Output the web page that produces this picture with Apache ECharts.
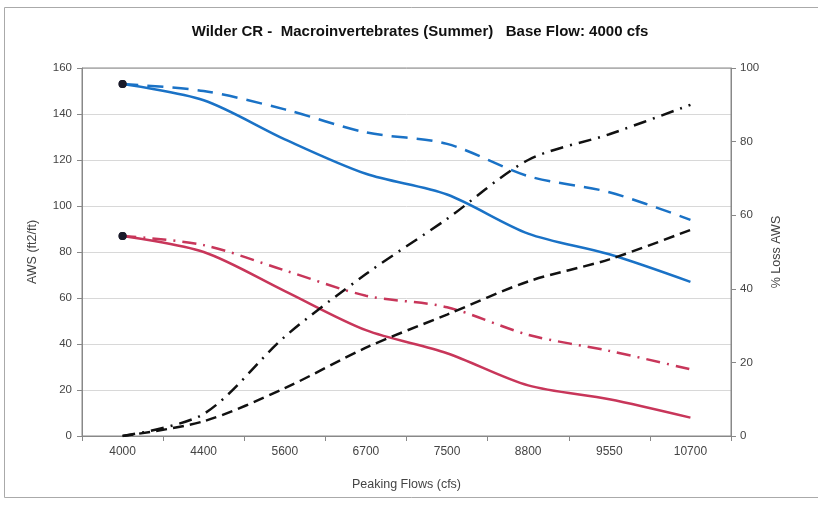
<!DOCTYPE html>
<html>
<head>
<meta charset="utf-8">
<script src="https://cdn.jsdelivr.net/npm/echarts@6/dist/echarts.min.js"></script>
<style>
  html, body { margin: 0; padding: 0; background: #fff; }
  #chart { width: 818px; height: 506px; }
</style>
</head>
<body>
<div id="chart"></div>
<script>
// 峰值流量类别
var flows = ['4000', '4400', '5600', '6700', '7500', '8800', '9550', '10700'];
// AWS (左轴)
var blueSolid  = [153, 146, 129, 114, 105, 88, 79, 67];
var blueDashed = [153, 150, 142, 132, 127, 113, 106, 94];
var redSolid   = [87, 80, 63, 46, 36, 22, 16, 8];
var redDashDot = [87, 83, 72, 61, 56, 44, 37, 29];
// % Loss AWS (右轴)
var blackDashed  = [0, 4, 13, 24, 33, 42, 48, 56];
var blackDashDot = [0, 6, 27, 44, 59, 75, 82, 90];
var leftTicks = [0, 160, 20];
var rightTicks = [0, 100, 20];

var BLUE = '#1a72c6', RED = '#c8365a', BLACK = '#111';
var FONT = 'Liberation Sans, Arial, sans-serif';

// 第一个点带黑色圆点
function withDot(arr) {
  return arr.map(function (v, i) {
    if (i === 0) return { value: v, symbol: 'circle', symbolSize: 8, itemStyle: { color: '#1a1a2a' } };
    return { value: v, symbol: 'none' };
  });
}

function line(name, data, color, dash, yIdx) {
  return {
    name: name,
    type: 'line',
    yAxisIndex: yIdx,
    smooth: 0.3,
    showSymbol: true,
    symbol: 'none',
    data: data,
    lineStyle: { color: color, width: 2.5, type: dash },
    itemStyle: { color: color },
    z: 3
  };
}

var myChart = echarts.init(document.getElementById('chart'));
var tickTxt = { color: '#444', fontSize: 11.5, fontFamily: FONT };
var nameTxt = { color: '#444', fontSize: 12.5, fontFamily: FONT };

myChart.setOption({
  animation: false,
  backgroundColor: '#fff',
  title: {
    text: 'Wilder CR -  Macroinvertebrates (Summer)   Base Flow: 4000 cfs',
    left: 415,
    textAlign: 'center',
    top: 19,
    textStyle: { fontSize: 15, fontWeight: 'bold', color: '#111', fontFamily: FONT }
  },
  graphic: [
    { type: 'rect', shape: { x: 4.5, y: 7.5, width: 830, height: 490 }, style: { fill: 'none', stroke: '#aaa', lineWidth: 1 }, z: 0 },
    { type: 'rect', shape: { x: 82, y: 68, width: 649, height: 368 }, style: { fill: 'none', stroke: '#888', lineWidth: 1 }, z: 1 }
  ],
  grid: { left: 82, right: 87, top: 68, bottom: 70 },
  xAxis: {
    type: 'category',
    data: flows,
    boundaryGap: true,
    name: 'Peaking Flows (cfs)',
    nameLocation: 'middle',
    nameGap: 42,
    nameTextStyle: nameTxt,
    axisLine: { lineStyle: { color: '#888' } },
    axisTick: { show: true, length: 5, lineStyle: { color: '#888' } },
    axisLabel: Object.assign({ margin: 10 }, tickTxt, { fontSize: 12 })
  },
  yAxis: [
    {
      type: 'value',
      min: leftTicks[0], max: leftTicks[1], interval: leftTicks[2],
      name: 'AWS (ft2/ft)',
      nameLocation: 'middle',
      nameRotate: 90,
      nameGap: 43,
      nameTextStyle: nameTxt,
      axisLine: { show: true, lineStyle: { color: '#888' } },
      axisTick: { show: true, length: 5, lineStyle: { color: '#888' } },
      axisLabel: Object.assign({ margin: 10 }, tickTxt),
      splitLine: { show: true, lineStyle: { color: '#d8d8d8', width: 1 } }
    },
    {
      type: 'value',
      position: 'right',
      min: rightTicks[0], max: rightTicks[1], interval: rightTicks[2],
      name: '% Loss AWS',
      nameLocation: 'middle',
      nameRotate: 90,
      nameGap: 36,
      nameTextStyle: nameTxt,
      axisLine: { show: true, lineStyle: { color: '#888' } },
      axisTick: { show: true, length: 5, lineStyle: { color: '#888' } },
      axisLabel: Object.assign({ margin: 9 }, tickTxt),
      splitLine: { show: false }
    }
  ],
  series: [
    line('blueDashed', withDot(blueDashed), BLUE, [16, 9], 0),
    line('blueSolid', withDot(blueSolid), BLUE, 'solid', 0),
    line('redDashDot', withDot(redDashDot), RED, [14, 7, 2, 7], 0),
    line('redSolid', withDot(redSolid), RED, 'solid', 0),
    line('blackDashed', blackDashed, BLACK, [11, 6], 1),
    line('blackDashDot', blackDashDot, BLACK, [13, 7, 2, 7], 1)
  ]
});
</script>
</body>
</html>
